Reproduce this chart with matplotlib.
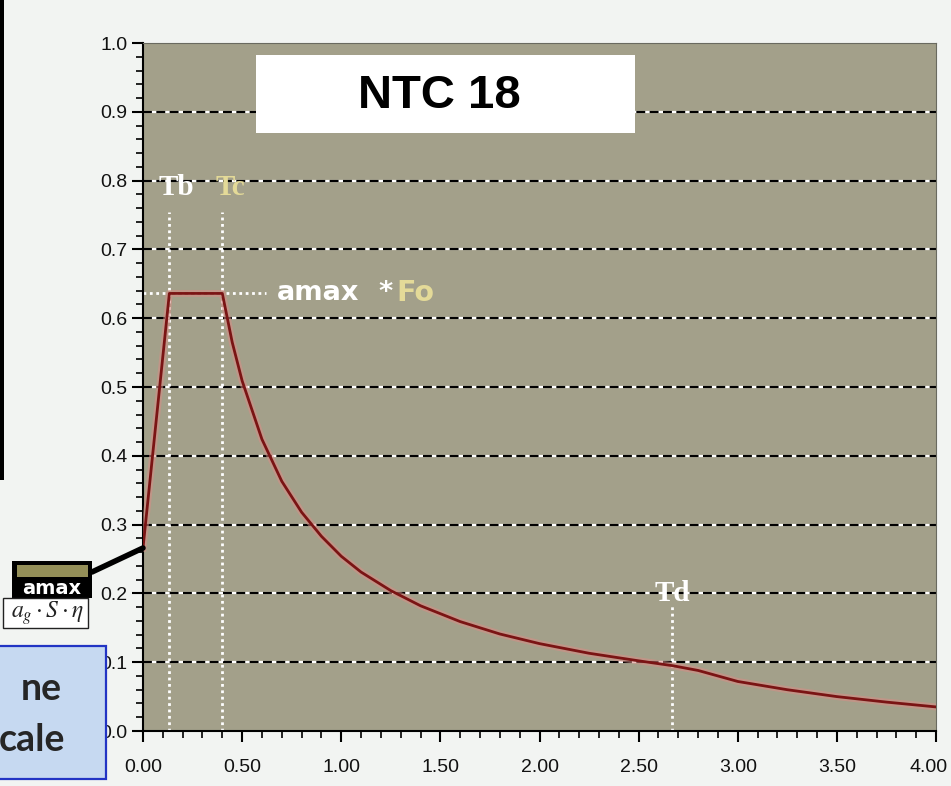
import matplotlib
matplotlib.use("Agg")
import matplotlib.pyplot as plt
from matplotlib.patches import Rectangle
from matplotlib.ticker import MultipleLocator, FixedLocator
from matplotlib.transforms import ScaledTranslation

# spectrum (period T in s, Se in g)
period = [0.0, 0.133, 0.40, 0.45, 0.50, 0.60, 0.70, 0.80, 0.90, 1.00, 1.10, 1.25,
          1.40, 1.60, 1.80, 2.00, 2.25, 2.50, 2.67, 2.80, 3.00, 3.25, 3.50, 3.75, 4.00]
accel = [0.266, 0.636, 0.636, 0.565, 0.509, 0.424, 0.363, 0.318, 0.283, 0.254, 0.231, 0.204,
         0.182, 0.159, 0.141, 0.127, 0.113, 0.102, 0.095, 0.088, 0.072, 0.060, 0.050, 0.042, 0.035]

# corner periods and plateau
Tb, Tc, Td = 0.133, 0.40, 2.67
plateau = 0.636

xticks = [0.0, 0.5, 1.0, 1.5, 2.0, 2.5, 3.0, 3.5, 4.0]
xticklabels = ["0.00", "0.50", "1.00", "1.50", "2.00", "2.50", "3.00", "3.50", "4.00"]
yticks = [0.0, 0.1, 0.2, 0.3, 0.4, 0.5, 0.6, 0.7, 0.8, 0.9, 1.0]
yticklabels = ["0.0", "0.1", "0.2", "0.3", "0.4", "0.5", "0.6", "0.7", "0.8", "0.9", "1.0"]

W, H = 951, 786
def px(x, y):
    # figure pixel (from top-left) -> figure fraction
    return x / W, 1 - y / H

fig = plt.figure(figsize=(9.51, 7.86), dpi=100, facecolor="#f2f4f2")
l, t = px(143, 43)
r, b = px(936, 731)
ax = fig.add_axes([l, b, r - l, t - b])
ax.set_facecolor("#a3a08a")
ax.set_xlim(0, 4.0)
ax.set_ylim(0, 1.0)

# dashed horizontal grid (black dashes over white)
for yv in yticks[1:-1]:
    ax.axhline(yv, color="white", lw=1.6, zorder=1)
    ax.axhline(yv, color="black", lw=1.6, linestyle=(0, (4, 2)), zorder=1.1)

# dotted white guide lines
dot = (0, (1, 1.3))
ax.plot([Tb, Tb], [0, 0.755], color="white", lw=2, linestyle=dot, zorder=2)
ax.plot([Tc, Tc], [0, 0.755], color="white", lw=2, linestyle=dot, zorder=2)
ax.plot([Td, Td], [0, 0.185], color="white", lw=2, linestyle=dot, zorder=2)
ax.plot([0, 0.62], [plateau, plateau], color="white", lw=2, linestyle=dot, zorder=2)

# the spectrum
ax.plot(period, accel, color="#d98d86", lw=5, alpha=0.55, zorder=3)
ax.plot(period, accel, color="#7a1414", lw=2, zorder=4)

# labels inside the plot
serif = ["Liberation Serif", "DejaVu Serif"]
ax.text(0.076, 0.79, "Tb", color="white", fontsize=21, fontweight="bold",
        family=serif, va="center", ha="left", zorder=5)
ax.text(0.364, 0.79, "Tc", color="#e4da98", fontsize=21, fontweight="bold",
        family=serif, va="center", ha="left", zorder=5)
ax.text(Td, 0.2, "Td", color="white", fontsize=21, fontweight="bold",
        family=serif, va="center", ha="center", zorder=5)
ax.text(0.675, plateau, "amax", color="white", fontsize=19.5, fontweight="bold",
        family="DejaVu Sans", va="center", ha="left", zorder=5)
ax.text(1.19, plateau, "*", color="white", fontsize=19.5, fontweight="bold",
        family="DejaVu Sans", va="center", ha="left", zorder=5)
ax.text(1.28, plateau, "Fo", color="#e4da98", fontsize=20.5, fontweight="bold",
        family="DejaVu Sans", va="center", ha="left", zorder=5)

# axes styling
for s in ["left", "bottom"]:
    ax.spines[s].set_color("black")
    ax.spines[s].set_linewidth(1.5)
for s in ["top", "right"]:
    ax.spines[s].set_color("#6a6a60")
    ax.spines[s].set_linewidth(0.8)

ax.xaxis.set_major_locator(FixedLocator(xticks))
ax.set_xticklabels(xticklabels)
ax.xaxis.set_minor_locator(MultipleLocator(0.1))
ax.yaxis.set_major_locator(FixedLocator(yticks))
ax.set_yticklabels(yticklabels)
ax.yaxis.set_minor_locator(MultipleLocator(0.02))
ax.tick_params(which="major", length=8, width=1.5, direction="out", color="black")
ax.tick_params(which="minor", length=5, width=1.2, direction="out", color="black")
ax.tick_params(axis="x", which="major", pad=12)
ax.tick_params(axis="y", which="major", pad=3)
for lab in ax.get_xticklabels() + ax.get_yticklabels():
    lab.set_family("Liberation Sans")
    lab.set_fontsize(14)
    lab.set_color("#111111")
# last x label sits against the right edge of the picture
last = ax.get_xticklabels()[-1]
last.set_transform(last.get_transform() + ScaledTranslation(-0.07, 0, fig.dpi_scale_trans))

# title box
x0, y0 = px(256, 133)
x1, y1 = px(635, 55)
fig.add_artist(Rectangle((x0, y0), x1 - x0, y1 - y0, transform=fig.transFigure,
                         facecolor="white", edgecolor="none", zorder=6))
fig.text(*px(439, 96), "NTC 18", fontsize=34, fontweight="bold", family="Liberation Sans",
         ha="center", va="center", color="black", zorder=7)

# black bar on the far left
x0, y0 = px(0, 480)
x1, y1 = px(4, 0)
fig.add_artist(Rectangle((x0, y0), x1 - x0, y1 - y0, transform=fig.transFigure,
                         facecolor="black", edgecolor="none", zorder=6))

# amax box with pointer to the start of the curve
ax.annotate("", xy=(period[0], accel[0]), xycoords="data",
            xytext=(92, H - 572), textcoords="figure pixels",
            arrowprops=dict(arrowstyle="-", lw=4, color="black", shrinkA=0, shrinkB=0),
            annotation_clip=False, zorder=6)
x0, y0 = px(12, 598)
x1, y1 = px(92, 561)
fig.add_artist(Rectangle((x0, y0), x1 - x0, y1 - y0, transform=fig.transFigure,
                         facecolor="black", edgecolor="none", zorder=6))
x0, y0 = px(17, 577)
x1, y1 = px(88, 565)
fig.add_artist(Rectangle((x0, y0), x1 - x0, y1 - y0, transform=fig.transFigure,
                         facecolor="#948f58", edgecolor="none", zorder=6.5))
fig.text(*px(52, 588), "amax", fontsize=14, fontweight="bold", family="DejaVu Sans",
         ha="center", va="center", color="white", zorder=7)
x0, y0 = px(3, 628)
x1, y1 = px(88, 598)
fig.add_artist(Rectangle((x0, y0), x1 - x0, y1 - y0, transform=fig.transFigure,
                         facecolor="white", edgecolor="#222222", lw=1, zorder=6))
fig.text(*px(47, 613), r"$a_g\cdot S\cdot \eta$", fontsize=17,
         ha="center", va="center", color="#222222", zorder=7,
         math_fontfamily="stix")

# blue note box, cut by the left edge
x0, y0 = px(-5, 779)
x1, y1 = px(106, 646)
fig.add_artist(Rectangle((x0, y0), x1 - x0, y1 - y0, transform=fig.transFigure,
                         facecolor="#c6d9f1", edgecolor="#2234c4", lw=1.6, zorder=8))
fig.text(*px(62, 700), "ne", fontsize=27, fontweight="bold", family="Lato",
         ha="right", va="baseline", color="#262626", zorder=9)
fig.text(*px(65, 751), "cale", fontsize=27, fontweight="bold", family="Lato",
         ha="right", va="baseline", color="#262626", zorder=9)

fig.savefig("out.png", dpi=100, facecolor=fig.get_facecolor())
